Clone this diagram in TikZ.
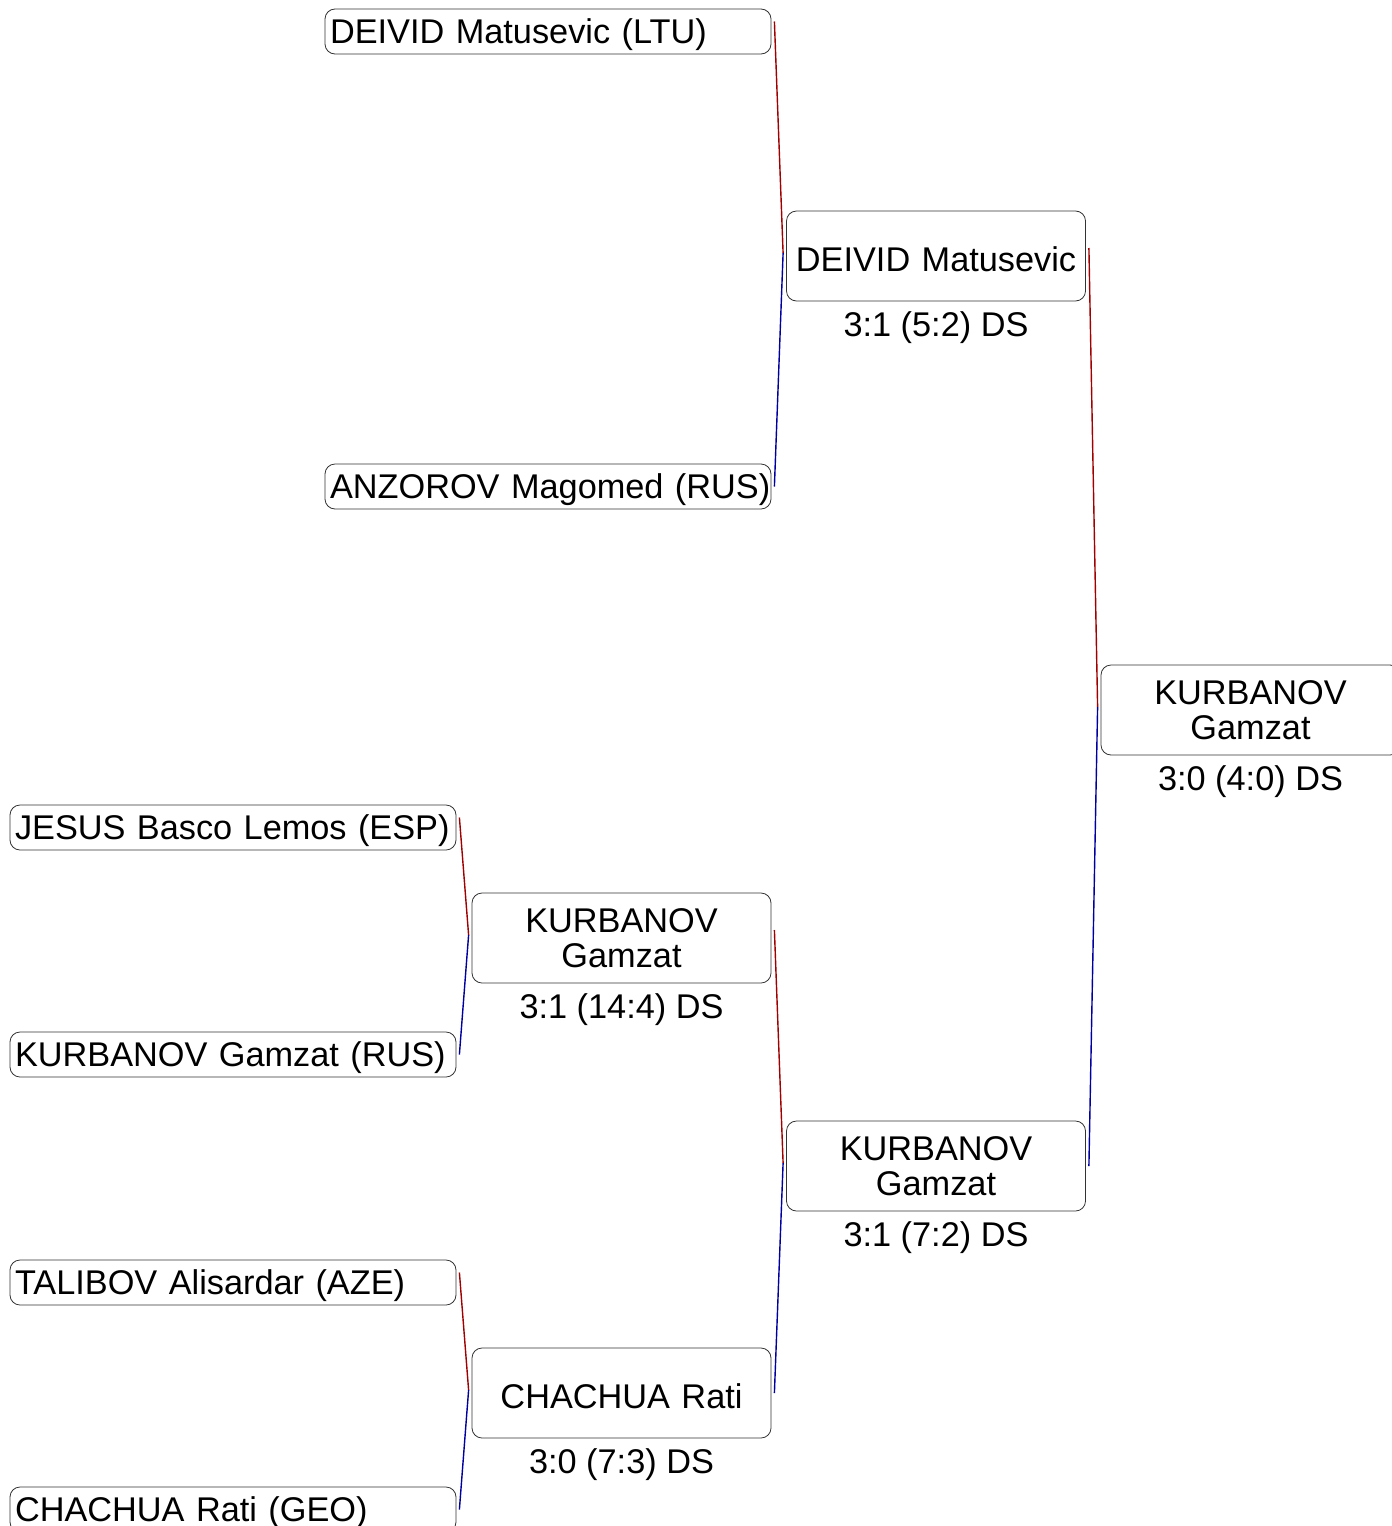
\documentclass[tikz,border=0pt]{standalone}
\usepackage{fontspec}
\setmainfont{Liberation Sans}
\definecolor{winred}{RGB}{160,0,0}
\definecolor{loseblue}{RGB}{0,0,160}
\begin{document}
\begin{tikzpicture}[x=1pt,y=-1pt,
  every node/.style={font=\fontsize{34.3}{35}\selectfont},
  srcbox/.style={draw=black!80, rounded corners=10pt, line width=0.8pt,
    minimum height=45pt, text width=436pt, inner xsep=5pt, inner ysep=0pt, align=left,
    text height=28pt, text depth=5pt},
  winbox/.style={draw=black!80, rounded corners=10pt, line width=0.8pt,
    minimum height=90pt, text width=289pt, inner xsep=5pt, inner ysep=0pt, align=center},
  oneline/.style={text height=30pt, text depth=0pt},
  score/.style={anchor=north, inner sep=0pt, yshift=-10pt},
  redline/.style={draw=winred, line width=1.4pt},
  blueline/.style={draw=loseblue, line width=1.4pt}]
\clip (0,0) rectangle (1392,1526);
\useasboundingbox (0,0) rectangle (1392,1526);

% first round
\node[srcbox] (s1) at (548,31.5) {\mbox{DEIVID Matusevic (LTU)}};
\node[srcbox] (s2) at (548,486.5) {\mbox{ANZOROV Magomed (RUS)}};
\node[srcbox] (s3) at (233,827.5) {\mbox{JESUS Basco Lemos (ESP)}};
\node[srcbox] (s4) at (233,1054.5) {\mbox{KURBANOV Gamzat (RUS)}};
\node[srcbox] (s5) at (233,1282.5) {\mbox{TALIBOV Alisardar (AZE)}};
\node[srcbox] (s6) at (233,1509.5) {\mbox{CHACHUA Rati (GEO)}};

% winners
\node[winbox, oneline] (w1) at (936,256) {DEIVID Matusevic};
\node[score] (c1) at (w1.south) {3:1 (5:2) DS};
\node[winbox] (w2) at (621.5,938) {KURBANOV\\Gamzat};
\node[score] (c2) at (w2.south) {3:1 (14:4) DS};
\node[winbox, oneline] (w3) at (621.5,1393) {CHACHUA Rati};
\node[score] (c3) at (w3.south) {3:0 (7:3) DS};
\node[winbox] (w4) at (936,1166) {KURBANOV\\Gamzat};
\node[score] (c4) at (w4.south) {3:1 (7:2) DS};
\node[winbox] (w5) at (1250.5,710) {KURBANOV\\Gamzat};
\node[score] (c5) at (w5.south) {3:0 (4:0) DS};

% connectors
\draw[redline] ([xshift=3pt,yshift=10pt]s1.east) -- ([xshift=-3pt,yshift=3pt]w1.west);
\draw[blueline] ([xshift=-3pt,yshift=3pt]w1.west) -- ([xshift=3pt]s2.east);
\draw[redline] ([xshift=3pt,yshift=10pt]s3.east) -- ([xshift=-3pt,yshift=3pt]w2.west);
\draw[blueline] ([xshift=-3pt,yshift=3pt]w2.west) -- ([xshift=3pt]s4.east);
\draw[redline] ([xshift=3pt,yshift=10pt]s5.east) -- ([xshift=-3pt,yshift=3pt]w3.west);
\draw[blueline] ([xshift=-3pt,yshift=3pt]w3.west) -- ([xshift=3pt]s6.east);
\draw[redline] ([xshift=3pt,yshift=8pt]w2.east) -- ([xshift=-3pt,yshift=3pt]w4.west);
\draw[blueline] ([xshift=-3pt,yshift=3pt]w4.west) -- ([xshift=3pt]w3.east);
\draw[redline] ([xshift=3pt,yshift=8pt]w1.east) -- ([xshift=-3pt,yshift=3pt]w5.west);
\draw[blueline] ([xshift=-3pt,yshift=3pt]w5.west) -- ([xshift=3pt]w4.east);
\end{tikzpicture}
\end{document}
